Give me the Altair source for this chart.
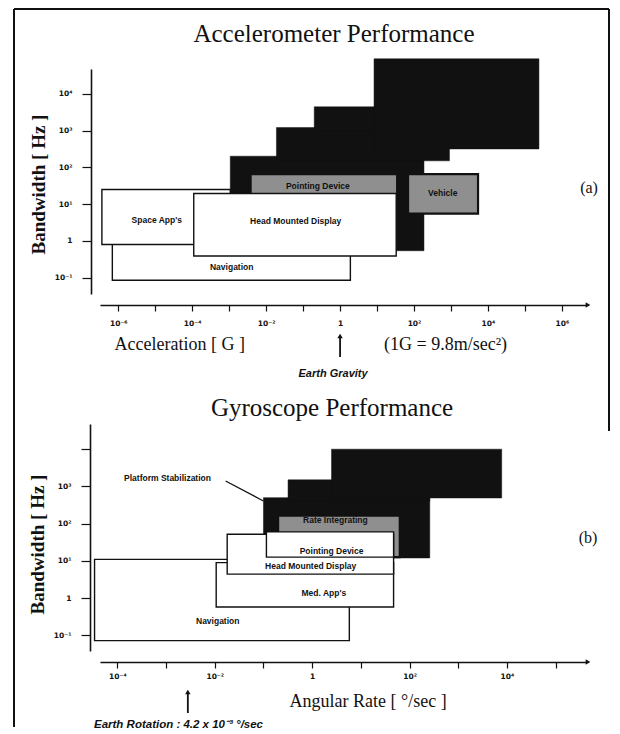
import json
import altair as alt
import pandas as pd

# ---------------- Panel (a): accelerometer ----------------
a_kind = ["black", "black", "black", "black", "stipple", "stipple", "white", "white", "white"]
a_name = ["b1", "b2", "b3", "b4", "Pointing Device", "Vehicle", "Navigation", "Space App's", "Head Mounted Display"]
a_xlo = [1.07e-3, 0.019, 0.2, 8.3, 3.8e-3, 69, 6.9e-7, 3.6e-7, 1.1e-4]
a_xhi = [186, 910, 910, 240000, 35, 5400, 1.9, 1.07e-3, 33]
a_ylo = [0.54, 150, 1000, 316, 12, 5.5, 0.085, 0.8, 0.39]
a_yhi = [200, 1200, 4400, 89000, 65, 65, 2, 25, 19.5]

a_lab = ["Space App's", "Head Mounted Display", "Navigation", "Pointing Device", "Vehicle"]
a_lab_x = [1.1e-5, 0.063, 1.17e-3, 0.25, 600]
a_lab_y = [3.7, 3.5, 0.19, 31, 20]

a_x_ticks = [1e-6, 1e-5, 1e-4, 1e-3, 1e-2, 1e-1, 1, 10, 100, 1e3, 1e4, 1e5, 1e6]
a_x_labels = ["10⁻⁶", "", "10⁻⁴", "", "10⁻²", "", "1", "", "10²", "", "10⁴", "", "10⁶"]
a_y_ticks = [0.1, 1, 10, 100, 1000, 10000]
a_y_labels = ["10⁻¹", "1", "10¹", "10²", "10³", "10⁴"]
a_xdom = [3.2e-7, 4.5e6]
a_ydom = [0.036, 47000]

# ---------------- Panel (b): gyroscope ----------------
b_kind = ["black", "black", "black", "stipple", "white", "white", "white", "white"]
b_name = ["c1", "c2", "c3", "Rate Integrating", "Navigation", "Med. App's", "Head Mounted Display", "Pointing Device"]
b_xlo = [0.1, 0.32, 2.5, 0.2, 3.4e-5, 0.0107, 0.018, 0.115]
b_xhi = [260, 260, 7800, 63, 5.8, 47, 47, 47]
b_ylo = [12, 400, 490, 12.6, 0.072, 0.58, 4.4, 12.6]
b_yhi = [500, 1500, 10000, 165, 11, 9, 52, 60]

b_lab = ["Pointing Device", "Head Mounted Display", "Med. App's", "Navigation", "Rate Integrating"]
b_lab_x = [2.5, 0.93, 1.74, 0.0115, 3.0]
b_lab_y = [18, 7.2, 1.38, 0.25, 126]

b_x_ticks = [1e-4, 1e-3, 1e-2, 1e-1, 1, 10, 100, 1e3, 1e4, 1e5]
b_x_labels = ["10⁻⁴", "", "10⁻²", "", "1", "", "10²", "", "10⁴", ""]
b_y_ticks = [0.1, 1, 10, 100, 1000, 10000]
b_y_labels = ["10⁻¹", "1", "10¹", "10²", "10³", ""]
b_xdom = [4.4e-5, 4.2e5]
b_ydom = [0.038, 47500]

W = 486
HA = 225
HB = 227
SERIF = "Liberation Serif"
SANS = "Liberation Sans"
TICKFONT = "DejaVu Sans"

FILL = {"black": "#111111", "stipple": "#8f8f8f", "white": "#ffffff"}


def lab_expr(labels, shift):
    return json.dumps(labels, ensure_ascii=False) + "[round(log(datum.value)/LN10)+" + str(shift) + "]"


def panel(kind, name, xlo, xhi, ylo, yhi, lab, lab_x, lab_y, xdom, ydom,
          xticks, xlabels, xshift, yticks, ylabels, height, xoff, yoff,
          xtitle, xtitle_x, xlabpad, ytitle_y):
    df = pd.DataFrame({"kind": kind, "name": name, "xlo": xlo, "xhi": xhi, "ylo": ylo, "yhi": yhi})
    xs = alt.Scale(type="log", domain=xdom, nice=False, zero=False)
    ys = alt.Scale(type="log", domain=ydom, nice=False, zero=False)
    xaxis = alt.Axis(values=xticks, labelExpr=lab_expr(xlabels, xshift), orient="bottom",
                     offset=xoff, tickSize=6, tickWidth=1.2, domainWidth=1.6,
                     domainColor="#111", tickColor="#111", grid=False,
                     labelFont=TICKFONT, labelFontWeight="bold", labelFontSize=7.5,
                     labelColor="#111", labelPadding=xlabpad, labelOverlap=False, labelFlush=False,
                     title=xtitle, titleFont=SERIF, titleFontSize=18, titleFontWeight="normal",
                     titleColor="#111", titleX=xtitle_x, titleY=39, titleAlign="left",
                     titleBaseline="middle", titleAnchor="start")
    yaxis = alt.Axis(values=yticks, labelExpr=lab_expr(ylabels, 1), orient="left",
                     offset=yoff, tickSize=9, tickWidth=1.2, domainWidth=1.6,
                     domainColor="#111", tickColor="#111", grid=False,
                     labelFont=TICKFONT, labelFontWeight="bold", labelFontSize=7.5,
                     labelColor="#111", labelPadding=10, labelOverlap=False, labelFlush=False,
                     title="Bandwidth   [ Hz ]", titleFont=SERIF, titleFontSize=19,
                     titleFontWeight="bold", titleColor="#111", titleX=-53, titleY=ytitle_y,
                     titleAngle=270, titleAlign="center", titleBaseline="middle")

    layers = []
    for k in ["black", "stipple", "white"]:
        sub = df[df["kind"] == k]
        if k == "black":
            mk = alt.Chart(sub).mark_rect(fill=FILL[k], stroke="#111", strokeWidth=0.5)
        elif k == "stipple":
            mk = alt.Chart(sub).mark_rect(fill=FILL[k], stroke="#111", strokeWidth=2.2)
        else:
            mk = alt.Chart(sub).mark_rect(fill=FILL[k], stroke="#111", strokeWidth=1.4)
        layers.append(mk.encode(
            x=alt.X("xlo:Q", scale=xs, axis=xaxis),
            x2="xhi:Q",
            y=alt.Y("ylo:Q", scale=ys, axis=yaxis),
            y2="yhi:Q",
        ))
    ldf = pd.DataFrame({"lab": lab, "lx": lab_x, "ly": lab_y})
    layers.append(alt.Chart(ldf).mark_text(font=SANS, fontWeight="bold", fontSize=8.5,
                                           color="#111", align="center", baseline="middle").encode(
        x=alt.X("lx:Q", scale=xs), y=alt.Y("ly:Q", scale=ys), text="lab:N"))
    # arrowhead at end of x axis
    one = pd.DataFrame({"d": [0]})
    layers.append(alt.Chart(one).mark_point(shape="triangle-right", filled=True, size=28,
                                            color="#111", opacity=1).encode(
        x=alt.value(W + 2), y=alt.value(height + xoff)))
    return layers, xs, ys, one


# ---- panel a ----
la, xsa, ysa, one = panel(a_kind, a_name, a_xlo, a_xhi, a_ylo, a_yhi, a_lab, a_lab_x, a_lab_y,
                          a_xdom, a_ydom, a_x_ticks, a_x_labels, 6, a_y_ticks, a_y_labels,
                          HA, 11, 9, "Acceleration   [ G ]", 14, 8, 115)

g_x = [1]
la.append(alt.Chart(pd.DataFrame({"gx": g_x})).mark_rule(color="#111", strokeWidth=1.8).encode(
    x=alt.X("gx:Q", scale=xsa), y=alt.value(268), y2=alt.value(288)))
la.append(alt.Chart(pd.DataFrame({"gx": g_x})).mark_point(shape="triangle-up", filled=True, size=30,
                                                          color="#111", opacity=1).encode(
    x=alt.X("gx:Q", scale=xsa), y=alt.value(267)))
la.append(alt.Chart(pd.DataFrame({"gx": g_x, "t": ["Earth Gravity"]})).mark_text(
    font=SANS, fontStyle="italic", fontWeight="bold", fontSize=11, color="#111", dx=-7).encode(
    x=alt.X("gx:Q", scale=xsa), y=alt.value(305), text="t:N"))
la.append(alt.Chart(one).mark_text(font=SERIF, fontSize=25, color="#111", text="Accelerometer Performance").encode(
    x=alt.value(234), y=alt.value(-35)))
la.append(alt.Chart(one).mark_text(font=SERIF, fontSize=16, color="#111", text="(a)").encode(
    x=alt.value(489), y=alt.value(119)))
la.append(alt.Chart(one).mark_text(font=SERIF, fontSize=18, color="#111", align="left",
                                   text="(1G = 9.8m/sec²)").encode(x=alt.value(284), y=alt.value(276)))
# figure frame
la.append(alt.Chart(one).mark_rule(color="#111", strokeWidth=2).encode(
    x=alt.value(-86), y=alt.value(-60), y2=alt.value(658)))
la.append(alt.Chart(one).mark_rule(color="#111", strokeWidth=2).encode(
    x=alt.value(509), y=alt.value(-60), y2=alt.value(362)))
la.append(alt.Chart(one).mark_rule(color="#111", strokeWidth=2).encode(
    x=alt.value(-86), x2=alt.value(509), y=alt.value(-60)))

chart_a = alt.layer(*la).properties(width=W, height=HA)

# ---- panel b ----
lb, xsb, ysb, one = panel(b_kind, b_name, b_xlo, b_xhi, b_ylo, b_yhi, b_lab, b_lab_x, b_lab_y,
                          b_xdom, b_ydom, b_x_ticks, b_x_labels, 4, b_y_ticks, b_y_labels,
                          HB, 11, 10, "Angular Rate   [ °/sec ]", 189, 4, 120)

ps_lab = ["Platform Stabilization"]
ps_x = [1.07e-3]
ps_y = [1700]
lead_x = [0.0167]
lead_x2 = [0.1]
lead_y = [1400]
lead_y2 = [405]
lb.append(alt.Chart(pd.DataFrame({"t": ps_lab, "x": ps_x, "y": ps_y})).mark_text(
    font=SANS, fontWeight="bold", fontSize=8.5, color="#111").encode(
    x=alt.X("x:Q", scale=xsb), y=alt.Y("y:Q", scale=ysb), text="t:N"))
lb.append(alt.Chart(pd.DataFrame({"x": lead_x, "x2": lead_x2, "y": lead_y, "y2": lead_y2})).mark_rule(
    color="#111", strokeWidth=1.3).encode(
    x=alt.X("x:Q", scale=xsb), x2="x2:Q", y=alt.Y("y:Q", scale=ysb), y2="y2:Q"))

er_x = [0.0028]
lb.append(alt.Chart(pd.DataFrame({"ex": er_x})).mark_rule(color="#111", strokeWidth=1.8).encode(
    x=alt.X("ex:Q", scale=xsb), y=alt.value(269), y2=alt.value(289)))
lb.append(alt.Chart(pd.DataFrame({"ex": er_x})).mark_point(shape="triangle-up", filled=True, size=30,
                                                           color="#111", opacity=1).encode(
    x=alt.X("ex:Q", scale=xsb), y=alt.value(268)))
lb.append(alt.Chart(one).mark_text(font=SANS, fontStyle="italic", fontWeight="bold", fontSize=11.5,
                                   color="#111", align="left",
                                   text="Earth Rotation : 4.2 x 10⁻³ °/sec").encode(
    x=alt.value(-6), y=alt.value(301)))
lb.append(alt.Chart(one).mark_text(font=SERIF, fontSize=25, color="#111", text="Gyroscope Performance").encode(
    x=alt.value(232), y=alt.value(-16)))
lb.append(alt.Chart(one).mark_text(font=SERIF, fontSize=16, color="#111", text="(b)").encode(
    x=alt.value(488), y=alt.value(114)))

chart_b = alt.layer(*lb).properties(width=W, height=HB)

chart = alt.vconcat(chart_a, chart_b, spacing=130, bounds="flush").properties(
    padding={"left": 5, "top": 0, "right": 0, "bottom": 0}
).configure(background="white", view=alt.ViewConfig(stroke=None))

chart.save("out.html", embed_options={"renderer": "svg", "actions": False})
